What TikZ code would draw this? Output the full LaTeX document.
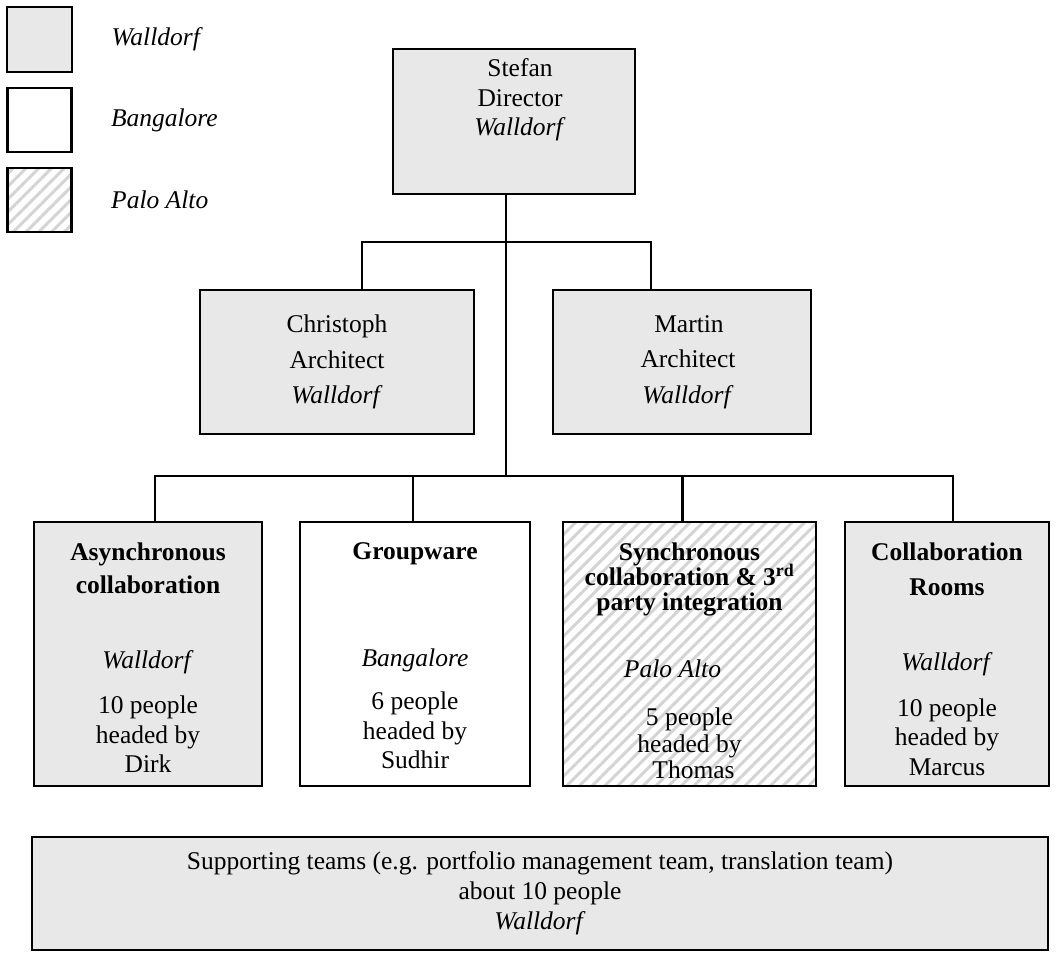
\documentclass[tikz,border=0pt]{standalone}
\usepackage{fontspec}
\setmainfont{Liberation Serif}
\usepackage{tikz}
\usetikzlibrary{positioning, patterns.meta}
\definecolor{wdfgray}{RGB}{232,232,232}
\definecolor{pahatch}{RGB}{212,212,212}

\begin{document}
\begin{tikzpicture}[
  x=1pt, y=-1pt,
  font=\fontsize{25.5}{29.5}\selectfont,
  unit/.style={draw, line width=2.6pt, inner sep=0pt},
  walldorf/.style={unit, fill=wdfgray},
  bangalore/.style={unit, fill=white},
  paloalto/.style={unit, pattern={Lines[angle=45, distance=9pt, line width=3pt]}, pattern color=pahatch},
  txt/.style={inner sep=0pt, align=center},
  link/.style={line width=2.4pt}] % one pt for each pixel of the page

  \useasboundingbox (0,0) rectangle (1059,958);

  % legend
  \node[walldorf, minimum size=65pt] (lgw) at (39.5,39.5) {};
  \node[bangalore, minimum size=64pt] (lgb) at (39.5,120) {};
  \node[paloalto, minimum size=64pt] (lgp) at (39.5,200) {};
  \node[txt, right=38pt of lgw] (lgwt) {\textit{Walldorf}};
  \node[txt, right=38pt of lgb] (lgbt) {\textit{Bangalore}};
  \node[txt, right=38pt of lgp] (lgpt) {\textit{Palo Alto}};

  % director and architects
  \node[walldorf, minimum width=242pt, minimum height=145pt] (stefan) at (514,121.5) {};
  \node[txt, below=11pt of stefan.north, xshift=6pt] (stefantxt) {Stefan\\Director\\\textit{Walldorf}};
  \node[walldorf, minimum width=274pt, minimum height=144pt, align=center,
        font=\fontsize{25.5}{35.5}\selectfont] (christoph) at (337,362) {Christoph\\Architect\\\textit{Walldorf}};
  \node[walldorf, minimum width=258pt, minimum height=144pt, align=center,
        font=\fontsize{25.5}{35.5}\selectfont] (martin) at (682,362) {\hspace*{14pt}Martin\\\hspace*{12pt}Architect\\\hspace*{12pt}\textit{Walldorf}};

  % teams
  \node[walldorf, minimum width=228pt, minimum height=264pt] (async) at (148,654) {};
  \node[bangalore, minimum width=230pt, minimum height=264pt] (grp) at (415,654) {};
  \node[paloalto, minimum width=253pt, minimum height=264pt] (sync) at (689.5,654) {};
  \node[walldorf, minimum width=204pt, minimum height=264pt] (rooms) at (947,654) {};

  \node[txt, below=22pt of async.north] (asynctxt)
    {\textbf{Asynchronous}\\[3.5pt]\textbf{collaboration}\\[45.5pt]\textit{Walldorf}\\[15.5pt]10 people\\headed by\\Dirk};
  \node[txt, below=22pt of grp.north] (grptxt)
    {\textbf{Groupware}\\[77.5pt]\textit{Bangalore}\\[13.5pt]6 people\\headed by\\Sudhir};
  \node[txt, below=22pt of sync.north] (synctxt)
    {\textbf{Synchronous}\\[-4.5pt]\textbf{collaboration \& 3\textsuperscript{rd}}\\[-4.5pt]\textbf{party integration}\\[37.5pt]\hspace*{-34pt}\textit{Palo Alto}\\[18.5pt]5 people\\[-3pt]headed by\\[-3pt]\hspace*{8pt}Thomas};
  \node[txt, below=22pt of rooms.north] (roomstxt)
    {\textbf{Collaboration}\\[5pt]\textbf{Rooms}\\[46pt]\textit{Walldorf}\\[16pt]10 people\\headed by\\Marcus};

  \node[walldorf, minimum width=1016pt, minimum height=113pt, align=center,
        font=\fontsize{25.5}{30}\selectfont] (support) at (540,893.5)
    {Supporting teams (e.g. portfolio management team, translation team)\\about 10 people\\\textit{Walldorf}};

  % connectors
  \coordinate (upbar) at (506,242);
  \coordinate (lowbar) at (506,476);
  \coordinate (trunk) at ([xshift=-8pt]stefan.south);
  \coordinate (cdrop) at ([xshift=25pt]christoph.north);
  \coordinate (mdrop) at ([xshift=-31pt]martin.north);
  \coordinate (adrop) at ([xshift=7pt]async.north);
  \coordinate (gdrop) at ([xshift=-2pt]grp.north);
  \coordinate (sdrop) at ([xshift=-7pt]sync.north);
  \coordinate (rdrop) at ([xshift=6pt]rooms.north);

  \draw[link] (trunk) -- (trunk |- lowbar);
  \draw[link] (cdrop) |- (upbar) -| (mdrop);
  \draw[link] (adrop) |- (lowbar) -| (rdrop);
  \draw[link] (gdrop) -- (gdrop |- lowbar);
  \draw[link] (sdrop) -- (sdrop |- lowbar);
\end{tikzpicture}
\end{document}
